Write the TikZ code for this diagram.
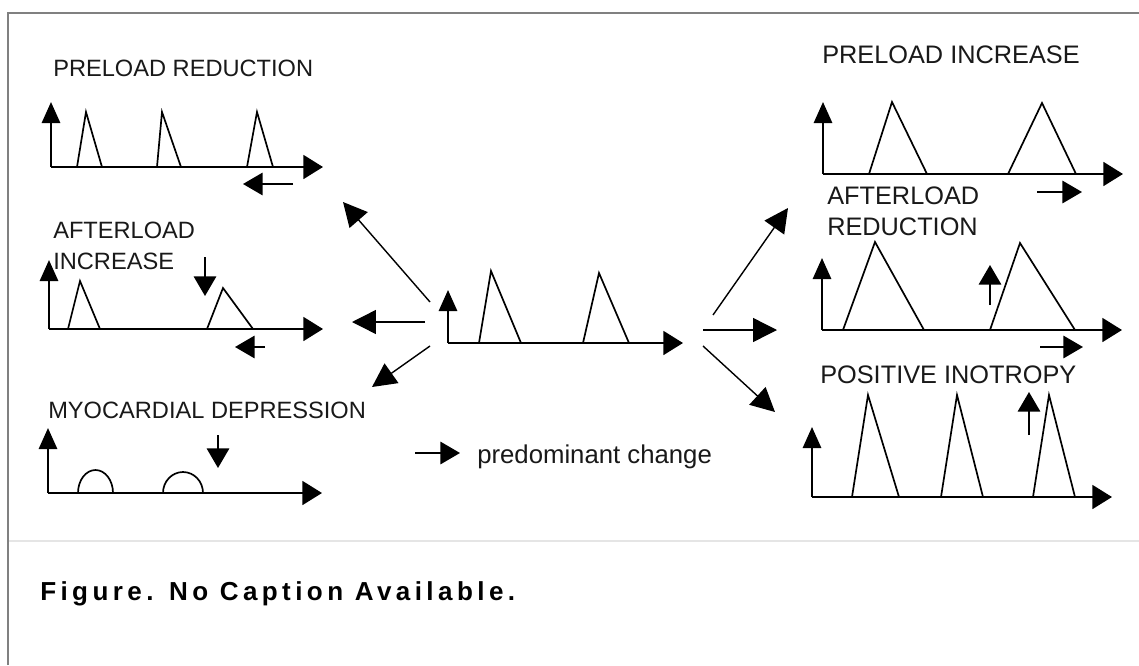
\documentclass[tikz,border=0pt]{standalone}
\usepackage{fontspec}
\setmainfont{Liberation Sans}
\newfontfamily\capfont[LetterSpace=17]{Liberation Sans}
\usetikzlibrary{arrows.meta}

\tikzset{
  axis/.style={line width=1.6pt, -{Triangle[length=14pt,width=17pt]}},
  yaxis/.style={line width=1.6pt, -{Triangle[length=15pt,width=13pt]}},
  spike/.style={line width=1.2pt, line join=miter},
  change/.style={line width=1.3pt, -{Triangle[length=14pt,width=16pt]}},
  flow/.style={line width=1pt, -{Triangle[length=17pt,width=17pt]}},
  title/.style={anchor=base west, inner sep=0pt, text=black!90, font=\fontsize{16.8}{20}\selectfont},
  rtitle/.style={title, font=\fontsize{18}{21}\selectfont},
}

\begin{document}
\begin{tikzpicture}[x=0.025cm, y=-0.025cm]
    \useasboundingbox (0,0) rectangle (1139,665);
    \fill[white] (0,0) rectangle (1139,665);
    \draw[gray, line width=1.4pt] (8,665) -- (8,13) -- (1139,13);
    \draw[black!10, line width=1.4pt] (9,541) -- (1139,541);

    \node[title] (prered) at (53,76) {PRELOAD REDUCTION};
    \coordinate (o-pr) at (51,167);
    \draw[yaxis] (o-pr) -- (51,102);
    \draw[axis] (o-pr) -- (323,167);
    \foreach \a/\b/\c in {77/86/102, 157/162/181, 247/257/273}
        \draw[spike] (\a,167) -- (\b,112) -- (\c,167);
    \draw[change] (293,184) -- (243,184);

    \node[title] (aftinc1) at (53,238) {AFTERLOAD};
    \node[title] (aftinc2) at (53,269) {INCREASE};
    \coordinate (o-ai) at (49,329);
    \draw[yaxis] (o-ai) -- (49,260);
    \draw[axis] (o-ai) -- (323,329);
    \draw[spike] (68,329) -- (80,281) -- (100,329);
    \draw[spike] (207,329) -- (223,288) -- (253,329);
    \draw[change] (205,257) -- (205,296);
    \draw[change] (265,347) -- (235,347);

    \node[title] (myodep) at (48,418) {MYOCARDIAL DEPRESSION};
    \coordinate (o-md) at (48,493);
    \draw[yaxis] (o-md) -- (48,428);
    \draw[axis] (o-md) -- (322,493);
    \draw[spike] (78,493) arc[start angle=180, end angle=360, x radius=17.5, y radius=23];
    \draw[spike] (163,493) arc[start angle=180, end angle=360, x radius=20, y radius=21];
    \draw[change] (218,435) -- (218,468);

    \coordinate (o-c) at (448,343);
    \draw[yaxis] (o-c) -- (448,290);
    \draw[axis] (o-c) -- (683,343);
    \draw[spike] (479,343) -- (491,271) -- (521,343);
    \draw[spike] (583,343) -- (599,273) -- (629,343);

    \coordinate (from-ul) at (430,302);
    \coordinate (to-pr) at (343,202);
    \coordinate (from-l) at (425,322);
    \coordinate (to-ai) at (352,322);
    \coordinate (from-ll) at (430,346);
    \coordinate (to-md) at (372,387);
    \coordinate (from-ur) at (713,315);
    \coordinate (to-pi) at (788,208);
    \coordinate (from-r) at (703,330);
    \coordinate (to-ar) at (777,330);
    \coordinate (from-lr) at (703,346);
    \coordinate (to-po) at (775,412);
    \draw[flow] (from-ul) -- (to-pr);
    \draw[flow] (from-l) -- (to-ai);
    \draw[flow] (from-ll) -- (to-md);
    \draw[flow] (from-ur) -- (to-pi);
    \draw[flow] (from-r) -- (to-ar);
    \draw[flow] (from-lr) -- (to-po);

    \coordinate (key) at (415,453);
    \draw[change] (key) -- ++(45,0);
    \node[anchor=base west, inner sep=0pt, text=black!90, font=\fontsize{18.3}{22}\selectfont] (keytext) at (477,463) {predominant change};

    \node[rtitle] (preinc) at (822,63) {PRELOAD INCREASE};
    \coordinate (o-pi) at (823,174);
    \draw[yaxis] (o-pi) -- (823,102);
    \draw[axis] (o-pi) -- (1123,174);
    \draw[spike] (869,174) -- (892,102) -- (927,174);
    \draw[spike] (1008,174) -- (1042,103) -- (1076,174);
    \draw[change] (1037,192) -- (1082,192);

    \node[rtitle] (aftred1) at (827,204) {AFTERLOAD};
    \node[rtitle] (aftred2) at (827,235) {REDUCTION};
    \coordinate (o-ar) at (822,330);
    \draw[yaxis] (o-ar) -- (822,258);
    \draw[axis] (o-ar) -- (1122,330);
    \draw[spike] (843,330) -- (875,242) -- (924,330);
    \draw[spike] (990,330) -- (1020,243) -- (1075,330);
    \draw[change] (990,305) -- (990,265);
    \draw[change] (1040,347) -- (1083,347);

    \node[rtitle] (posino) at (820,383) {POSITIVE INOTROPY};
    \coordinate (o-po) at (812,497);
    \draw[yaxis] (o-po) -- (812,427);
    \draw[axis] (o-po) -- (1112,497);
    \foreach \a/\b/\c in {852/868/899, 941/957/983, 1033/1049/1075}
        \draw[spike] (\a,497) -- (\b,395) -- (\c,497);
    \draw[change] (1029,435) -- (1029,392);

    \node[anchor=base west, inner sep=0pt, font=\capfont\bfseries\fontsize{18.5}{22}\selectfont] (caption) at (40,600) {Figure. No Caption Available.};
\end{tikzpicture}
\end{document}
